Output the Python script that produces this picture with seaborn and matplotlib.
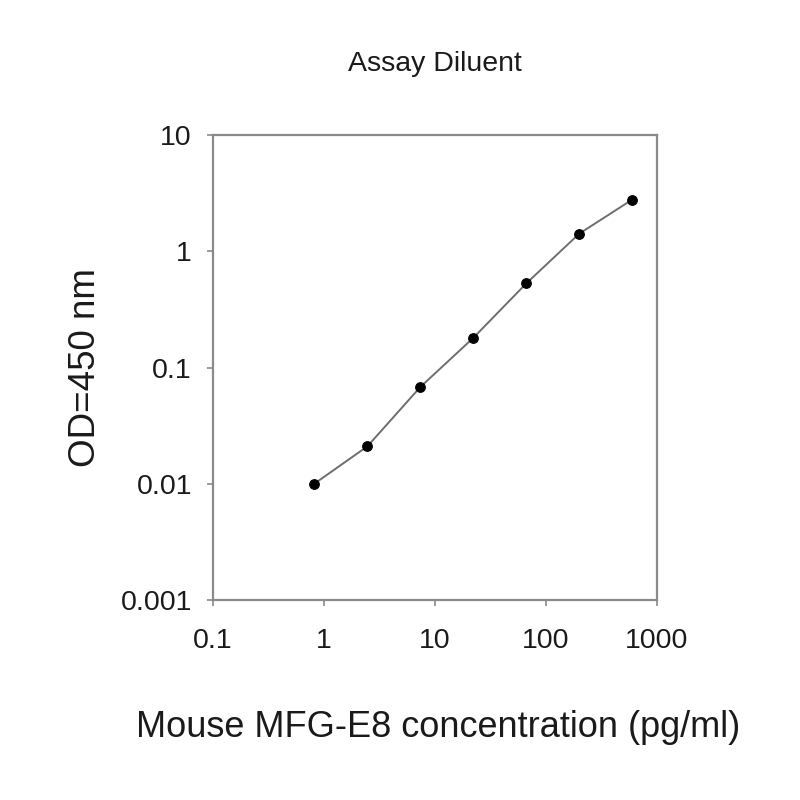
import matplotlib
matplotlib.use("Agg")
import matplotlib.pyplot as plt
import numpy as np
import pandas as pd
import seaborn as sns
from matplotlib.ticker import FixedLocator, FixedFormatter, NullLocator

# 标准曲线数据（3 倍稀释）
conc = [0.82, 2.47, 7.4, 22.2, 66.7, 200, 600]
od450 = [0.0100, 0.021, 0.068, 0.18, 0.53, 1.42, 2.79]

x_ticks = [0.1, 1, 10, 100, 1000]
x_tick_labels = ["0.1", "1", "10", "100", "1000"]
y_ticks = [0.001, 0.01, 0.1, 1, 10]
y_tick_labels = ["0.001", "0.01", "0.1", "1", "10"]

sns.set_style("white")
plt.rcParams["font.family"] = ["Liberation Sans", "DejaVu Sans"]

df = pd.DataFrame({"conc": conc, "od": od450})

fig = plt.figure(figsize=(8, 8), dpi=100)
ax = fig.add_axes([0.266, 0.25, 0.555, 0.581])

sns.lineplot(data=df, x="conc", y="od", ax=ax, color="#6e6e6e", linewidth=1.4,
             marker="o", markersize=7, markerfacecolor="black",
             markeredgecolor="black", zorder=3)

ax.set_xscale("log")
ax.set_yscale("log")
ax.set_xlim(0.1, 1000)
ax.set_ylim(0.001, 10)

ax.xaxis.set_major_locator(FixedLocator(x_ticks))
ax.xaxis.set_major_formatter(FixedFormatter(x_tick_labels))
ax.xaxis.set_minor_locator(NullLocator())
ax.yaxis.set_major_locator(FixedLocator(y_ticks))
ax.yaxis.set_major_formatter(FixedFormatter(y_tick_labels))
ax.yaxis.set_minor_locator(NullLocator())

for s in ax.spines.values():
    s.set_color("#8a8a8a")
    s.set_linewidth(1.6)

ax.tick_params(axis="both", which="major", direction="out", length=4, width=1.2,
               color="#8a8a8a", labelsize=20.5, labelcolor="#1a1a1a",
               bottom=True, left=True)
ax.tick_params(axis="x", pad=16)
ax.tick_params(axis="y", pad=11)

ax.set_xlabel("Mouse MFG-E8 concentration (pg/ml)", fontsize=26, color="#1a1a1a")
ax.set_ylabel("OD=450 nm", fontsize=26.5, color="#1a1a1a")
ax.xaxis.set_label_coords(0.508, -0.275)
ax.yaxis.set_label_coords(-0.287, 0.5)
ax.xaxis.label.set_va("center")
ax.yaxis.label.set_va("center")
ax.yaxis.label.set_ha("center")

ax.set_title("Assay Diluent", fontsize=20.5, color="#1a1a1a", y=1.153, va="center", pad=0)

fig.savefig("out.png", dpi=100)
